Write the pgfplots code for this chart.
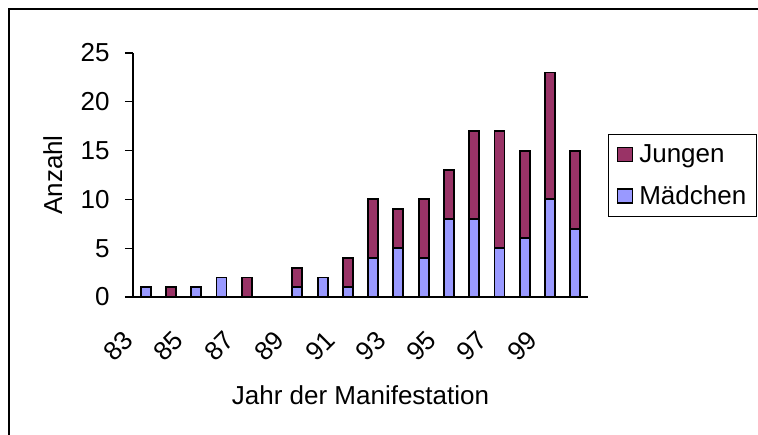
\documentclass[border=0pt]{standalone}
\usepackage{fontspec}
\setmainfont{Liberation Sans}
\usepackage{pgfplots}
\pgfplotsset{compat=1.18}
\definecolor{jungen}{HTML}{993366}
\definecolor{maedchen}{HTML}{9999FF}
\begin{document}
\begin{tikzpicture}[font=\fontsize{26bp}{31bp}\selectfont]
\begin{axis}[
  anchor=south west, scale only axis,
  width=455bp, height=244bp,
  ybar stacked, bar width=10bp,
  xmin=-0.5, xmax=17.5, ymin=0, ymax=25,
  axis x line*=bottom, axis y line*=left,
  axis line style={black, line width=1.6bp},
  tick align=outside,
  /pgf/number format/assume math mode=true,
  ytick={0,5,...,25},
  major tick length=8bp,
  ytick style={black, line width=1.4bp},
  xtick={0,2,...,16},
  xticklabels={83,85,87,89,91,93,95,97,99},
  xtick style={draw=none},
  minor xtick={-0.5,0.5,...,17.5},
  minor tick length=8bp,
  minor x tick style={black, line width=1.4bp},
  xticklabel style={xshift=-15bp, yshift=-28bp, rotate=45, anchor=east},
  yticklabel style={xshift=-12bp},
  xlabel={Jahr der Manifestation},
  ylabel={Anzahl},
  xlabel style={at={(axis description cs:0.5,-0.44)}, anchor=base},
  ylabel style={at={(axis description cs:-0.176,0.5)}, anchor=center},
  legend style={at={(1.044,0.668)}, anchor=north west, draw=black,
    line width=1.4bp, fill=white, row sep=18bp, inner xsep=8bp, inner ysep=8bp,
    /tikz/every odd column/.append style={column sep=4bp}},
  legend cell align=left,
  legend image code/.code={\draw[#1,line width=1.6bp] (0bp,-7bp) rectangle (15bp,7bp);},
  reverse legend,
]
\addplot[fill=maedchen, draw=black, line width=1.9bp] coordinates {
(0,1) (1,0) (2,1) (3,2) (4,0) (5,0) (6,1) (7,2) (8,1) (9,4)
(10,5) (11,4) (12,8) (13,8) (14,5) (15,6) (16,10) (17,7)};
\addlegendentry{Mädchen}
\addplot[fill=jungen, draw=black, line width=1.9bp] coordinates {
(0,0) (1,1) (2,0) (3,0) (4,2) (5,0) (6,2) (7,0) (8,3) (9,6)
(10,4) (11,6) (12,5) (13,9) (14,12) (15,9) (16,13) (17,8)};
\addlegendentry{Jungen}
\end{axis}
\pgfresetboundingbox
\useasboundingbox (-133bp,-138bp) rectangle (625bp,297bp);
\draw[line width=1.6bp] (-124bp,-145bp) -- (-124bp,288bp) -- (640bp,288bp);
\end{tikzpicture}
\end{document}
